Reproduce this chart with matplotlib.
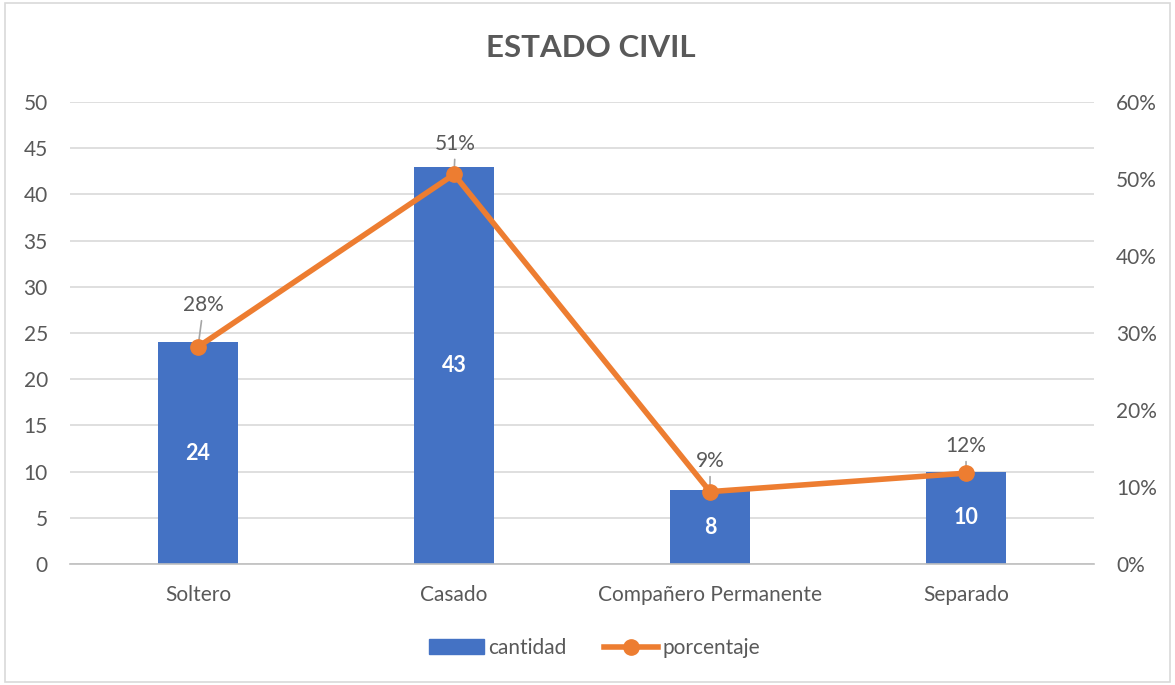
import matplotlib.pyplot as plt
import numpy as np
from matplotlib.patches import Rectangle
from matplotlib.lines import Line2D

categories = ["Soltero", "Casado", "Compañero Permanente", "Separado"]
cantidad = [24, 43, 8, 10]
porcentaje = [28.2, 50.6, 9.4, 11.8]
pct_labels = ["28%", "51%", "9%", "12%"]

plt.rcParams['font.family'] = ['Lato', 'DejaVu Sans']
gray = "#595959"
blue = "#4472C4"
orange = "#ED7D31"

fig = plt.figure(figsize=(11.75, 6.85), dpi=100)
ax = fig.add_axes([0.0596, 0.1766, 0.8715, 0.6745])
ax2 = ax.twinx()

x = np.arange(len(categories))
ax.bar(x, cantidad, width=0.316, color=blue, zorder=2)
for xi, v in zip(x, cantidad):
    ax.text(xi, v / 2, str(v), ha="center", va="center", color="white",
            fontsize=15.5, fontweight="bold", zorder=3)

ax.set_xlim(-0.5, 3.5)
ax.set_ylim(0, 50)
ax.set_yticks(range(0, 51, 5))
ax.grid(axis="y", color="#D9D9D9", linewidth=1.2, zorder=0)
ax.set_axisbelow(True)
ax.set_xticks(x)
ax.set_xticklabels(categories)
ax.tick_params(axis="y", length=0, labelsize=15, labelcolor=gray, pad=16)
ax.tick_params(axis="x", length=0, labelsize=15, labelcolor=gray, pad=15)
for s in ["top", "right", "left"]:
    ax.spines[s].set_visible(False)
ax.spines["bottom"].set_color("#BFBFBF")
ax.spines["bottom"].set_linewidth(1.2)

ax2.plot(x, porcentaje, color=orange, linewidth=4, marker="o", markersize=11,
         zorder=4)
ax2.set_ylim(0, 60)
ax2.set_yticks(range(0, 61, 10))
ax2.set_yticklabels([f"{v}%" for v in range(0, 61, 10)])
ax2.tick_params(axis="y", length=0, labelsize=15, labelcolor=gray, pad=16)
for s in ax2.spines.values():
    s.set_visible(False)

# label offsets in points (dx, dy) from each point
offsets = [(4, 30), (1, 22), (0, 22), (0, 19.5)]
for xi, v, lab, (dx, dy) in zip(x, porcentaje, pct_labels, offsets):
    ax2.annotate(lab, xy=(xi, v), xytext=(dx, dy), textcoords="offset points",
                 ha="center", va="center", fontsize=15, color=gray,
                 arrowprops=dict(arrowstyle="-", color="#A6A6A6", lw=1.2,
                                 shrinkA=2, shrinkB=5))

fig.text(0.503, 0.93, "ESTADO CIVIL", ha="center", va="center",
         fontsize=22.5, fontweight="bold", color=gray)

handles = [Rectangle((0, 0), 1, 1, color=blue),
           Line2D([0], [0], color=orange, linewidth=4, marker="o", markersize=11)]
fig.legend(handles, ["cantidad", "porcentaje"], loc="center",
           bbox_to_anchor=(0.506, 0.054), ncol=2, frameon=False, fontsize=15,
           labelcolor=gray, handlelength=2.6, handletextpad=0.2, columnspacing=1.8)

fig.patches.append(Rectangle((0.004, 0.004), 0.992, 0.992, transform=fig.transFigure,
                             fill=False, edgecolor="#D9D9D9", linewidth=1.2))

fig.savefig("out.png", dpi=100)
